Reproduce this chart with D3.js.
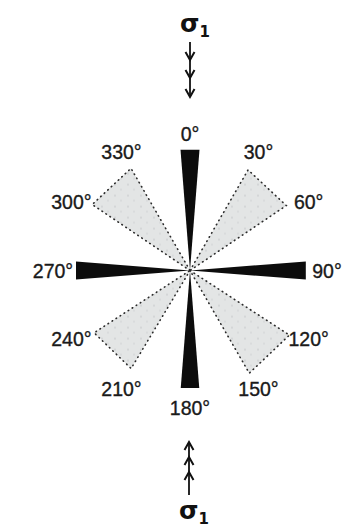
<!DOCTYPE html>
<html>
<head>
<meta charset="utf-8">
<script src="https://cdn.jsdelivr.net/npm/d3@7/dist/d3.min.js"></script>
<style>
  html, body { margin: 0; padding: 0; background: #fff; }
  svg { display: block; }
</style>
</head>
<body>
<svg id="chart" width="343" height="532"></svg>
<script>
// Main directions (black petals): azimuth, degrees clockwise from north; relative length
const axisAzimuths = [0, 90, 180, 270];
const axisLengths = [1.0, 0.96, 0.975, 0.945];
const axisHalfWidth = 4.5; // degrees

// Diagonal sectors (gray fans): start / end azimuth and relative length
const sectorStarts = [30, 123, 211, 304];
const sectorEnds = [56, 150, 237, 330];
const sectorLengths = [0.96, 0.98, 0.945, 0.975];

// Azimuth tick labels
const tickAzimuths = [0, 30, 60, 90, 120, 150, 180, 210, 240, 270, 300, 330];

// Stress symbol
const stressLabel = "σ";
const stressIndex = "1";

const svg = d3.select("#chart");
const cx = 190, cy = 270.5;
const rMax = 121;
const r = d3.scaleLinear().domain([0, 1]).range([0, rMax]);
const rad = d3.scaleLinear().domain([0, 360]).range([0, 2 * Math.PI]);

const radial = d3.lineRadial()
  .angle(d => rad(d[0]))
  .radius(d => r(d[1]))
  .curve(d3.curveLinearClosed);

// stipple texture for the gray fans
const defs = svg.append("defs");
const pat = defs.append("pattern")
  .attr("id", "stipple")
  .attr("patternUnits", "userSpaceOnUse")
  .attr("width", 13).attr("height", 11);
pat.append("rect").attr("width", 13).attr("height", 11).attr("fill", "#e3e5e5");
pat.append("circle").attr("cx", 3).attr("cy", 2).attr("r", 0.6).attr("fill", "#a0a4a8");
pat.append("circle").attr("cx", 9).attr("cy", 7).attr("r", 0.5).attr("fill", "#b0b2b4");

const g = svg.append("g").attr("transform", `translate(${cx},${cy})`);

// gray fans
const sectors = sectorStarts.map((s, i) => ({ s, e: sectorEnds[i], len: sectorLengths[i] }));
g.selectAll("path.sector")
  .data(sectors)
  .join("path")
  .attr("class", "sector")
  .attr("d", d => radial([[d.s, 0], [d.s, d.len], [d.e, d.len]]))
  .attr("fill", "url(#stipple)")
  .attr("stroke", "#2a2a2a")
  .attr("stroke-width", 1.6)
  .attr("stroke-linecap", "round")
  .attr("stroke-dasharray", "0.6 4.2");

// black petals
const petals = axisAzimuths.map((a, i) => ({ a, len: axisLengths[i] }));
g.selectAll("path.petal")
  .data(petals)
  .join("path")
  .attr("class", "petal")
  .attr("d", d => radial([[d.a, 0], [d.a - axisHalfWidth, d.len], [d.a + axisHalfWidth, d.len]]))
  .attr("fill", "#0c0c0c");

// azimuth labels
const labelR = 137;
g.selectAll("text.tick")
  .data(tickAzimuths)
  .join("text")
  .attr("class", "tick")
  .attr("x", d => labelR * Math.sin(rad(d)))
  .attr("y", d => -labelR * Math.cos(rad(d)))
  .attr("text-anchor", "middle")
  .attr("dominant-baseline", "central")
  .attr("font-family", "Liberation Sans, Arial, sans-serif")
  .attr("font-size", 19.5)
  .attr("fill", "#1a1a1a")
  .attr("stroke", "#1a1a1a")
  .attr("stroke-width", 0.35)
  .text(d => d + "°");

// compression arrows with stress symbol
function stressArrow(x, yTail, yTip, heads, labelY) {
  const dir = Math.sign(yTip - yTail);
  svg.append("line")
    .attr("x1", x).attr("x2", x)
    .attr("y1", yTail).attr("y2", yTip)
    .attr("stroke", "#111").attr("stroke-width", 1.8);
  heads.forEach(hy => {
    svg.append("path")
      .attr("d", d3.line()([[x - 4.5, hy - dir * 8], [x, hy], [x + 4.5, hy - dir * 8]]))
      .attr("fill", "none")
      .attr("stroke", "#111")
      .attr("stroke-width", 2)
      .attr("stroke-linejoin", "miter");
  });
  const t = svg.append("text")
    .attr("x", x - 10).attr("y", labelY)
    .attr("font-family", "DejaVu Sans, sans-serif")
    .attr("font-weight", "bold")
    .attr("font-size", 25)
    .attr("fill", "#111");
  t.append("tspan").text(stressLabel);
  t.append("tspan").attr("font-size", 15).attr("dy", 5).text(stressIndex);
}
stressArrow(190, 42, 97, [60, 78, 97], 32);
stressArrow(189, 495, 442, [442, 457, 472], 519);
</script>
</body>
</html>
